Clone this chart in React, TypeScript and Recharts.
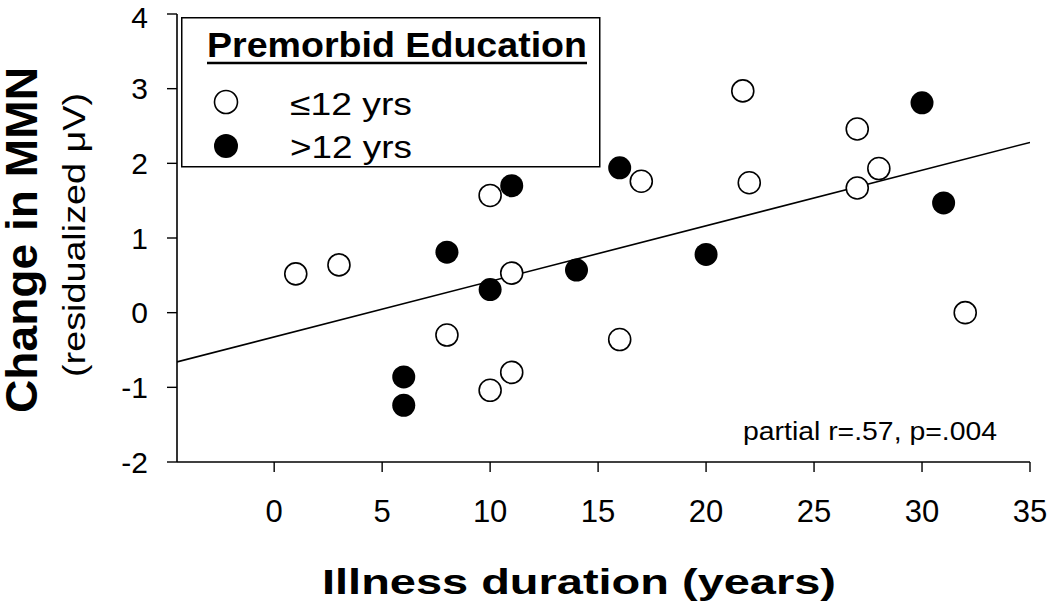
import React from "react";
import { ReferenceLine, Scatter, ScatterChart, XAxis, YAxis } from "recharts";

type Pt = { x: number; y: number };

// illness duration (years) vs change in MMN (residualized uV)
const lowEducation: Pt[] = [
  { x: 1, y: 0.52 },
  { x: 3, y: 0.64 },
  { x: 8, y: -0.3 },
  { x: 10, y: 1.57 },
  { x: 10, y: -1.04 },
  { x: 11, y: -0.8 },
  { x: 11, y: 0.53 },
  { x: 16, y: -0.36 },
  { x: 17, y: 1.76 },
  { x: 21.7, y: 2.97 },
  { x: 22, y: 1.74 },
  { x: 27, y: 2.46 },
  { x: 27, y: 1.67 },
  { x: 28, y: 1.93 },
  { x: 32, y: 0.0 }
];

const highEducation: Pt[] = [
  { x: 6, y: -0.86 },
  { x: 6, y: -1.24 },
  { x: 8, y: 0.81 },
  { x: 10, y: 0.31 },
  { x: 11, y: 1.7 },
  { x: 14, y: 0.57 },
  { x: 16, y: 1.94 },
  { x: 20, y: 0.78 },
  { x: 30, y: 2.81 },
  { x: 31, y: 1.47 }
];

const fitLine: Pt[] = [
  { x: -4.5, y: -0.66 },
  { x: 35, y: 2.28 }
];

const xTicks = [0, 5, 10, 15, 20, 25, 30, 35];
const yTicks = [-2, -1, 0, 1, 2, 3, 4];
const seriesNames = ["≤12 yrs", ">12 yrs"];

const FONT = "'Liberation Sans', Arial, sans-serif";

const OpenDot = (p: any) => <circle cx={p.cx} cy={p.cy} r={11} fill="#fff" stroke="#000" strokeWidth={1.6} />;
const FilledDot = (p: any) => <circle cx={p.cx} cy={p.cy} r={11.5} fill="#000" />;

// legend box drawn in the plot's top-left corner
function LegendBox() {
  return (
    <g transform="translate(181, 17)" style={{ fontFamily: FONT }}>
      <rect x={0.75} y={0.75} width={418} height={149} fill="#fff" stroke="#000" strokeWidth={1.5} />
      <text x={26} y={40} fontSize={35} fontWeight="bold" textLength={380} lengthAdjust="spacingAndGlyphs">
        Premorbid Education
      </text>
      <line x1={26} x2={406} y1={46} y2={46} stroke="#000" strokeWidth={2.5} />
      <circle cx={45} cy={85} r={11.5} fill="#fff" stroke="#000" strokeWidth={1.6} />
      <text x={109} y={98} fontSize={31} textLength={122} lengthAdjust="spacingAndGlyphs">
        {seriesNames[0]}
      </text>
      <circle cx={45} cy={129} r={12} fill="#000" />
      <text x={109} y={141} fontSize={31} textLength={122} lengthAdjust="spacingAndGlyphs">
        {seriesNames[1]}
      </text>
    </g>
  );
}

function YTitle() {
  return (
    <g style={{ fontFamily: FONT }}>
      <text
        x={37}
        y={240}
        transform="rotate(-90, 37, 240)"
        textAnchor="middle"
        fontSize={44}
        fontWeight="bold"
        textLength={346}
        lengthAdjust="spacingAndGlyphs"
      >
        Change in MMN
      </text>
      <text
        x={85}
        y={235}
        transform="rotate(-90, 85, 235)"
        textAnchor="middle"
        fontSize={31}
        textLength={284}
        lengthAdjust="spacingAndGlyphs"
      >
        (residualized μV)
      </text>
    </g>
  );
}

function XTitle() {
  return (
    <text
      x={579}
      y={594}
      textAnchor="middle"
      fontSize={35}
      fontWeight="bold"
      textLength={514}
      lengthAdjust="spacingAndGlyphs"
      style={{ fontFamily: FONT }}
    >
      Illness duration (years)
    </text>
  );
}

export default function App() {
  return (
    <div style={{ position: "absolute", left: 0, top: 0, background: "#fff", fontFamily: FONT }}>
      <ScatterChart width={1050} height={612} margin={{ top: 14, right: 20, left: 0, bottom: 0 }}>
        <XAxis
          type="number"
          dataKey="x"
          domain={[-4.5, 35]}
          ticks={xTicks}
          allowDataOverflow
          height={150}
          axisLine={{ stroke: "#000", strokeWidth: 1.6 }}
          tickLine={{ stroke: "#000", strokeWidth: 1.4 }}
          tickSize={10}
          tickMargin={28}
          tick={{ fill: "#000", fontSize: 31, fontFamily: FONT }}
          label={<XTitle />}
        />
        <XAxis xAxisId="top" orientation="top" type="number" domain={[-4.5, 35]} height={0} tick={false} tickLine={false} axisLine={{ stroke: "#000", strokeWidth: 1.6 }} />
        <YAxis
          type="number"
          dataKey="y"
          domain={[-2, 4]}
          ticks={yTicks}
          allowDataOverflow
          width={177}
          axisLine={{ stroke: "#000", strokeWidth: 1.6 }}
          tickLine={{ stroke: "#000", strokeWidth: 1.4 }}
          tickSize={10}
          tickMargin={19}
          tick={{ fill: "#000", fontSize: 30, fontFamily: FONT }}
          label={<YTitle />}
        />
        <YAxis yAxisId="right" orientation="right" type="number" domain={[-2, 4]} width={0} tick={false} tickLine={false} axisLine={{ stroke: "#000", strokeWidth: 1.6 }} />
        <ReferenceLine segment={fitLine} stroke="#000" strokeWidth={1.6} ifOverflow="hidden" />
        <Scatter name={seriesNames[0]} data={lowEducation} shape={OpenDot} isAnimationActive={false} />
        <Scatter name={seriesNames[1]} data={highEducation} shape={FilledDot} isAnimationActive={false} />
        <text x={997} y={440} textAnchor="end" fontSize={26} textLength={254} lengthAdjust="spacingAndGlyphs" style={{ fontFamily: FONT }}>
          partial r=.57, p=.004
        </text>
        <LegendBox />
      </ScatterChart>
    </div>
  );
}
